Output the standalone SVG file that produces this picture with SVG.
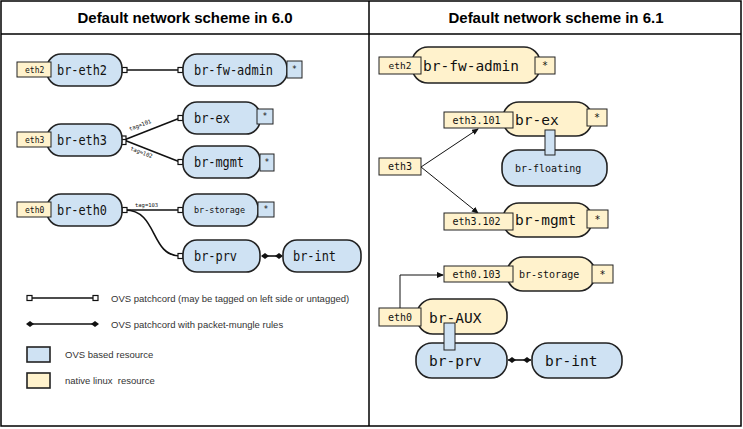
<svg xmlns="http://www.w3.org/2000/svg" width="743" height="429" viewBox="0 0 743 429">
<style>
.frame{fill:none;stroke:#000;stroke-width:1.5}
.ovs{fill:#cfe2f3;stroke:#222;stroke-width:1.6}
.nat{fill:#fff2cc;stroke:#222;stroke-width:1.6}
.lbl{fill:#fff2cc;stroke:#222;stroke-width:1}
.starb{stroke:#222;stroke-width:1}
.sb{fill:#cfe2f3}
.sy{fill:#fff2cc}
.bar{fill:#cfe2f3;stroke:#222;stroke-width:1}
.title{font-family:"Liberation Sans",Arial,sans-serif;font-weight:bold;font-size:15px;fill:#000;text-anchor:middle}
.m{font-family:"DejaVu Sans Mono",monospace;fill:#111}
.big{font-size:14px}
.big2{font-size:14.5px}
.sm{font-size:10px}
.xs{font-size:8px}
.tag{font-family:"DejaVu Sans Mono",monospace;font-size:5.5px;fill:#111}
.leg{font-family:"Liberation Sans",Arial,sans-serif;font-size:9.5px;fill:#333;white-space:pre}
.line{fill:none;stroke:#111;stroke-width:1.6}
.thin{fill:none;stroke:#111;stroke-width:1}
.sq{fill:#fff;stroke:#111;stroke-width:1.2}
.dia{fill:#111}
</style>
<defs>
<marker id="arr" markerWidth="7" markerHeight="6" refX="6" refY="3" orient="auto" markerUnits="userSpaceOnUse">
<path d="M0,0 L7,3 L0,6 Z" fill="#111"/>
</marker>
<path id="diamond" d="M0,-3 L4,0 L0,3 L-4,0 Z"/>
</defs>
<rect x="0" y="0" width="743" height="429" fill="#fff"/>
<g id="table">
<rect class="frame" x="1" y="1" width="740" height="425"/>
<line class="frame" x1="1" y1="34" x2="741" y2="34"/>
<line class="frame" x1="369" y1="1" x2="369" y2="426"/>
<text class="title" x="185" y="23">Default network scheme in 6.0</text>
<text class="title" x="556" y="23">Default network scheme in 6.1</text>
</g>

<g id="connectors">
<!-- left -->
<line class="line" x1="125" y1="70" x2="180" y2="70"/>
<rect class="sq" x="122" y="67.5" width="5" height="5"/>
<rect class="sq" x="178" y="67.5" width="5" height="5"/>
<line class="line" x1="124" y1="140" x2="180" y2="118"/>
<line class="line" x1="124" y1="140" x2="180" y2="162"/>
<rect class="sq" x="121" y="136" width="5" height="5"/>
<rect class="sq" x="121" y="139.5" width="5" height="5"/>
<rect class="sq" x="178" y="115.5" width="5" height="5"/>
<rect class="sq" x="178" y="159.5" width="5" height="5"/>
<text class="tag" transform="translate(130,131) rotate(-21)">tag=101</text>
<text class="tag" transform="translate(130,150) rotate(21)">tag=102</text>
<line class="line" x1="125" y1="210" x2="180" y2="210"/>
<path class="line" d="M125,210 C158,210 150,256 180,256"/>
<rect class="sq" x="122" y="207.5" width="5" height="5"/>
<rect class="sq" x="178" y="207.5" width="5" height="5"/>
<rect class="sq" x="178" y="253.5" width="5" height="5"/>
<text class="tag" x="135" y="207">tag=103</text>
<line class="line" x1="262" y1="256" x2="281" y2="256"/>
<use href="#diamond" class="dia" x="265" y="256"/>
<use href="#diamond" class="dia" x="279" y="256"/>
<!-- right -->
<line class="thin" x1="421" y1="167" x2="478" y2="129" marker-end="url(#arr)"/>
<line class="thin" x1="421" y1="167" x2="478" y2="213" marker-end="url(#arr)"/>
<polyline class="thin" points="400,308 400,275 443,275" marker-end="url(#arr)"/>
<line class="line" x1="508" y1="360" x2="531" y2="360"/>
<use href="#diamond" class="dia" x="512" y="360"/>
<use href="#diamond" class="dia" x="527" y="360"/>
</g>

<!-- left panel nodes -->
<g id="l-br-eth2">
<rect class="ovs" x="47" y="54" width="75" height="32" rx="14"/>
<rect class="lbl" x="17" y="62" width="34" height="15"/>
<text class="m xs" x="25" y="72.5">eth2</text>
<text class="m big" x="57" y="75" textLength="50" lengthAdjust="spacingAndGlyphs">br-eth2</text>
</g>
<g id="l-br-fw-admin">
<rect class="ovs" x="183" y="54" width="104" height="32" rx="14"/>
<rect class="starb sb" x="287" y="61" width="15" height="17"/>
<text class="m xs" x="294.5" y="72" text-anchor="middle">*</text>
<text class="m big" x="194" y="75" textLength="79" lengthAdjust="spacingAndGlyphs">br-fw-admin</text>
</g>
<g id="l-br-eth3">
<rect class="ovs" x="47" y="124" width="75" height="32" rx="14"/>
<rect class="lbl" x="17" y="132" width="34" height="15"/>
<text class="m xs" x="25" y="142.5">eth3</text>
<text class="m big" x="57" y="145" textLength="50" lengthAdjust="spacingAndGlyphs">br-eth3</text>
</g>
<g id="l-br-ex">
<rect class="ovs" x="183" y="102" width="77" height="32" rx="14"/>
<rect class="starb sb" x="257" y="109" width="16" height="15"/>
<text class="m xs" x="265" y="119" text-anchor="middle">*</text>
<text class="m big" x="194" y="123" textLength="36" lengthAdjust="spacingAndGlyphs">br-ex</text>
</g>
<g id="l-br-mgmt">
<rect class="ovs" x="183" y="146" width="77" height="32" rx="14"/>
<rect class="starb sb" x="260" y="154" width="14" height="17"/>
<text class="m xs" x="267" y="165" text-anchor="middle">*</text>
<text class="m big" x="194" y="167" textLength="50" lengthAdjust="spacingAndGlyphs">br-mgmt</text>
</g>
<g id="l-br-eth0">
<rect class="ovs" x="47" y="194" width="75" height="32" rx="14"/>
<rect class="lbl" x="17" y="202" width="34" height="15"/>
<text class="m xs" x="25" y="212.5">eth0</text>
<text class="m big" x="57" y="215" textLength="50" lengthAdjust="spacingAndGlyphs">br-eth0</text>
</g>
<g id="l-br-storage">
<rect class="ovs" x="183" y="194" width="75" height="32" rx="14"/>
<rect class="starb sb" x="258" y="202" width="16" height="15"/>
<text class="m xs" x="266" y="212" text-anchor="middle">*</text>
<text class="m" font-size="8.5" x="194" y="213" textLength="51" lengthAdjust="spacingAndGlyphs">br-storage</text>
</g>
<g id="l-br-prv">
<rect class="ovs" x="183" y="240" width="77" height="32" rx="14"/>
<text class="m big" x="194" y="261" textLength="43" lengthAdjust="spacingAndGlyphs">br-prv</text>
</g>
<g id="l-br-int">
<rect class="ovs" x="283" y="240" width="78" height="32" rx="14"/>
<text class="m big" x="293" y="261" textLength="43" lengthAdjust="spacingAndGlyphs">br-int</text>
</g>

<g id="legend">
<line class="line" x1="29" y1="298" x2="96" y2="298"/>
<rect class="sq" x="27" y="295.5" width="5" height="5"/>
<rect class="sq" x="93" y="295.5" width="5" height="5"/>
<text class="leg" x="111" y="301.5">OVS patchcord (may be tagged on left side or untagged)</text>
<line class="line" x1="29" y1="324" x2="96" y2="324"/>
<use href="#diamond" class="dia" x="30" y="324"/>
<use href="#diamond" class="dia" x="95" y="324"/>
<text class="leg" x="111" y="327.5">OVS patchcord with packet-mungle rules</text>
<rect class="ovs" x="27" y="347" width="23" height="15"/>
<text class="leg" x="65" y="358">OVS based resource</text>
<rect class="nat" x="27" y="373" width="23" height="15"/>
<text class="leg" x="65" y="384">native linux  resource</text>
</g>

<!-- right panel nodes -->
<g id="r-br-fw-admin">
<rect class="nat" x="412" y="47" width="128" height="36" rx="16"/>
<rect class="lbl" x="379" y="57" width="42" height="17"/>
<text class="m" font-size="9.5" x="400" y="69" text-anchor="middle">eth2</text>
<rect class="starb sy" x="535" y="57" width="20" height="17"/>
<text class="m sm" x="545" y="69" text-anchor="middle">*</text>
<text class="m big2" x="423" y="71">br-fw-admin</text>
</g>
<g id="r-br-floating">
<rect class="ovs" x="502" y="150" width="105" height="36" rx="16"/>
<text class="m sm" x="515" y="172">br-floating</text>
</g>
<g id="r-br-ex">
<rect class="nat" x="503" y="102" width="89" height="34" rx="16"/>
<rect class="lbl" x="444" y="112" width="69" height="16"/>
<text class="m sm" x="476.5" y="123.5" text-anchor="middle">eth3.101</text>
<rect class="starb sy" x="587" y="109" width="20" height="17"/>
<text class="m sm" x="597" y="121" text-anchor="middle">*</text>
<text class="m big2" x="515" y="125">br-ex</text>
<rect class="bar" x="545" y="130" width="10" height="25"/>
</g>
<g id="r-eth3">
<rect class="lbl" x="379" y="158" width="42" height="17"/>
<text class="m sm" x="400" y="170" text-anchor="middle">eth3</text>
</g>
<g id="r-br-mgmt">
<rect class="nat" x="503" y="203" width="89" height="34" rx="16"/>
<rect class="lbl" x="444" y="213" width="69" height="17"/>
<text class="m sm" x="476.5" y="225" text-anchor="middle">eth3.102</text>
<rect class="starb sy" x="587" y="210" width="21" height="18"/>
<text class="m sm" x="597.5" y="222.5" text-anchor="middle">*</text>
<text class="m big2" x="515" y="225">br-mgmt</text>
</g>
<g id="r-br-storage">
<rect class="nat" x="507" y="257" width="88" height="34" rx="16"/>
<rect class="lbl" x="444" y="266" width="69" height="16"/>
<text class="m sm" x="476.5" y="277.5" text-anchor="middle">eth0.103</text>
<rect class="starb sy" x="592" y="265" width="21" height="18"/>
<text class="m sm" x="602.5" y="277.5" text-anchor="middle">*</text>
<text class="m sm" x="519" y="277.5">br-storage</text>
</g>
<g id="r-br-AUX">
<rect class="nat" x="417" y="299" width="90" height="35" rx="16"/>
<rect class="lbl" x="379" y="308" width="42" height="18"/>
<text class="m sm" x="400" y="320.5" text-anchor="middle">eth0</text>
<text class="m big2" x="429" y="323">br-AUX</text>
</g>
<g id="r-br-prv">
<rect class="ovs" x="416" y="343" width="91" height="35" rx="16"/>
<text class="m big2" x="429" y="366">br-prv</text>
</g>
<rect class="bar" x="444" y="323" width="11" height="27"/>
<g id="r-br-int">
<rect class="ovs" x="532" y="343" width="90" height="35" rx="16"/>
<text class="m big2" x="545" y="366">br-int</text>
</g>
</svg>
